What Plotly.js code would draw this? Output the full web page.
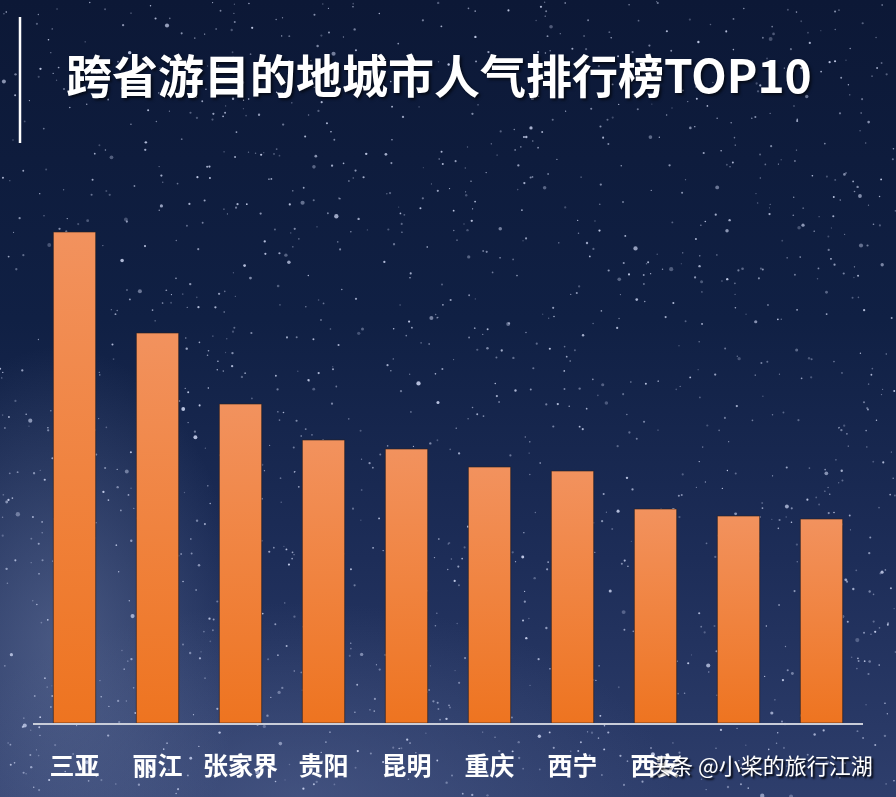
<!DOCTYPE html>
<html>
<head>
<meta charset="utf-8">
<script src="https://cdn.plot.ly/plotly-3.0.1.min.js"></script>
<style>
  html, body { margin:0; padding:0; width:896px; height:797px; overflow:hidden; }
  body {
    background:
      radial-gradient(ellipse 260px 420px at 60px 640px, rgba(120,135,175,0.45), rgba(120,135,175,0) 70%),
      radial-gradient(ellipse 500px 260px at 300px 797px, rgba(90,105,150,0.45), rgba(90,105,150,0) 75%),
      linear-gradient(to bottom, #0c1836 0%, #102044 40%, #1d2d58 70%, #2e3e6c 100%);
  }
  #stars { position:absolute; left:0; top:0; }
  #chart { position:absolute; left:0; top:0; width:896px; height:797px; }
</style>
</head>
<body>
<canvas id="stars" width="896" height="797"></canvas>
<div id="chart"></div>
<script>
// ---- data ----
const cities = ["三亚", "丽江", "张家界", "贵阳", "昆明", "重庆", "西宁", "西安", "城市9", "城市10"];
const tickLabels = ["三亚", "丽江", "张家界", "贵阳", "昆明", "重庆", "西宁", "西安", "", ""];
const popularity = [491, 390, 319, 283, 274, 256, 252, 214, 207, 204];
const titleText = "跨省游目的地城市人气排行榜TOP10";
const watermark = "头条 @小桨的旅行江湖";

// ---- decorative star field (deterministic) ----
(function(){
  const c = document.getElementById('stars').getContext('2d');
  let s = 12345;
  const rnd = () => { s = (s * 1103515245 + 12345) % 2147483648; return s / 2147483648; };
  for (let i = 0; i < 1600; i++) {
    const x = rnd() * 896, y = rnd() * 797;
    const r = rnd() < 0.93 ? 0.6 + rnd() * 0.6 : 1.2 + rnd() * 1.0;
    const a = 0.25 + rnd() * 0.6;
    c.fillStyle = 'rgba(220,228,255,' + a.toFixed(2) + ')';
    c.beginPath(); c.arc(x, y, r, 0, Math.PI * 2); c.fill();
  }
})();

const FONT = '"Noto Sans CJK SC", "Noto Sans", sans-serif';

const trace = {
  type: 'bar',
  x: cities,
  y: popularity,
  marker: { color: '#F08238', line: { color: 'rgba(40,30,30,0.6)', width: 1 } },
  hoverinfo: 'skip'
};

const layout = {
  width: 896, height: 797,
  margin: { l: 33, r: 33, t: 100, b: 74 },
  paper_bgcolor: 'rgba(0,0,0,0)',
  plot_bgcolor: 'rgba(0,0,0,0)',
  bargap: 0.49,
  showlegend: false,
  title: {
    text: '<b>' + titleText + '</b>',
    x: 66 / 896, xanchor: 'left', xref: 'container',
    y: 1 - 77 / 797, yanchor: 'middle', yref: 'container',
    font: { family: FONT, size: 46, color: '#ffffff', shadow: '2px 2px 3px rgba(0,0,0,0.6)' }
  },
  xaxis: {
    type: 'category',
    tickmode: 'array', tickvals: cities, ticktext: tickLabels.map(t => t ? '<b>' + t + '</b>' : ''),
    showline: true, linecolor: '#c9cdd9', linewidth: 2,
    showgrid: false, zeroline: false, ticks: '',
    ticklabelstandoff: 20,
    tickfont: { family: FONT, size: 25, color: '#ffffff' },
    fixedrange: true
  },
  yaxis: {
    range: [0, 623], visible: false, showgrid: false, zeroline: false, fixedrange: true
  },
  shapes: [{
    type: 'line', xref: 'paper', yref: 'paper',
    x0: (20 - 33) / 830, x1: (20 - 33) / 830,
    y0: (723 - 17) / 623, y1: (723 - 143) / 623,
    line: { color: '#ffffff', width: 2.5 }
  }],
  annotations: [{
    text: watermark, xref: 'paper', yref: 'paper',
    x: (761 - 33) / 830, y: (723 - 764) / 623,
    xanchor: 'center', yanchor: 'middle', showarrow: false,
    font: { family: FONT, size: 22, color: '#ffffff', shadow: '2px 2px 2px rgba(0,0,0,0.9)' }
  }]
};

Plotly.newPlot('chart', [trace], layout, { displayModeBar: false, staticPlot: true }).then(function(gd){
  const svg = gd.querySelector('svg.main-svg');
  const ns = 'http://www.w3.org/2000/svg';
  let defs = svg.querySelector('defs');
  if (!defs) { defs = document.createElementNS(ns, 'defs'); svg.insertBefore(defs, svg.firstChild); }
  const g = document.createElementNS(ns, 'linearGradient');
  g.setAttribute('id', 'barGrad'); g.setAttribute('x1', '0'); g.setAttribute('y1', '0');
  g.setAttribute('x2', '0'); g.setAttribute('y2', '1');
  [['0%', '#F2925E'], ['100%', '#EE7420']].forEach(function(st){
    const e = document.createElementNS(ns, 'stop');
    e.setAttribute('offset', st[0]); e.setAttribute('stop-color', st[1]);
    g.appendChild(e);
  });
  defs.appendChild(g);
  gd.querySelectorAll('.barlayer .point path').forEach(function(p){
    p.style.fill = 'url(#barGrad)';
  });
});
</script>
</body>
</html>
